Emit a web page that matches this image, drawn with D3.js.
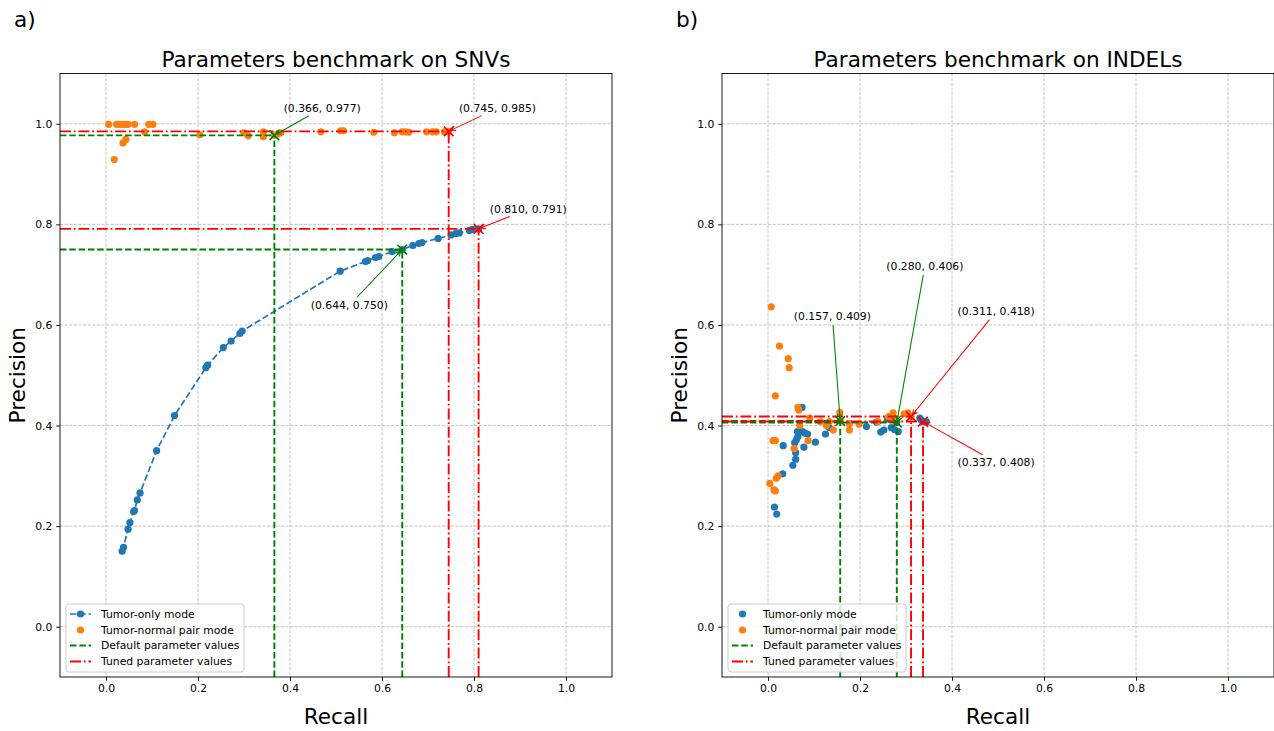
<!DOCTYPE html>
<html>
<head>
<meta charset="utf-8">
<script src="https://cdn.jsdelivr.net/npm/d3@7"></script>
<style>
  body { margin: 0; background: #fff; }
  svg { display: block; font-family: "DejaVu Sans", sans-serif; }
</style>
</head>
<body>
<svg id="chart" width="1274" height="731"></svg>
<script>
// ---- values: [recall, precision] ----
const snvTumorOnly = [
  [0.035,0.150],[0.038,0.158],[0.048,0.194],[0.052,0.207],[0.060,0.229],[0.062,0.231],
  [0.068,0.252],[0.074,0.266],[0.110,0.350],[0.149,0.420],[0.217,0.515],[0.221,0.520],
  [0.255,0.555],[0.272,0.568],[0.291,0.583],[0.296,0.588],[0.509,0.707],[0.564,0.726],
  [0.569,0.728],[0.586,0.734],[0.593,0.736],[0.622,0.746],[0.644,0.750],[0.667,0.758],
  [0.680,0.762],[0.687,0.764],[0.722,0.772],[0.750,0.779],[0.761,0.782],[0.768,0.783],
  [0.790,0.788],[0.797,0.790],[0.810,0.791]
];
const snvPair = [
  [0.006,0.999],[0.023,0.999],[0.030,0.999],[0.037,0.999],[0.043,0.999],[0.048,0.999],
  [0.062,0.999],[0.093,0.999],[0.102,0.999],[0.084,0.984],[0.037,0.962],[0.043,0.969],
  [0.018,0.929],[0.204,0.978],[0.300,0.982],[0.309,0.976],[0.342,0.984],[0.342,0.974],
  [0.366,0.977],[0.374,0.980],[0.380,0.982],[0.467,0.984],[0.510,0.986],[0.516,0.986],
  [0.582,0.983],[0.627,0.982],[0.644,0.984],[0.651,0.984],[0.658,0.983],[0.697,0.984],
  [0.710,0.984],[0.718,0.984],[0.736,0.984],[0.745,0.985]
];
const snvDefault = [[0.366,0.977],[0.644,0.750]];
const snvTuned = [[0.745,0.985],[0.810,0.791]];

const indelTumorOnly = [
  [0.014,0.238],[0.019,0.224],[0.032,0.304],[0.033,0.360],[0.054,0.321],[0.060,0.333],
  [0.060,0.346],[0.058,0.366],[0.062,0.372],[0.065,0.378],[0.064,0.388],[0.075,0.388],
  [0.080,0.385],[0.086,0.383],[0.078,0.357],[0.074,0.436],[0.103,0.367],[0.125,0.383],
  [0.133,0.396],[0.214,0.398],[0.236,0.407],[0.245,0.387],[0.252,0.391],[0.260,0.413],
  [0.268,0.396],[0.275,0.392],[0.283,0.388],[0.280,0.406],[0.330,0.415],[0.333,0.411],
  [0.337,0.408],[0.341,0.407],[0.344,0.408]
];
const indelPair = [
  [0.007,0.636],[0.025,0.558],[0.044,0.533],[0.046,0.515],[0.016,0.459],[0.065,0.436],
  [0.067,0.431],[0.069,0.400],[0.091,0.415],[0.114,0.408],[0.127,0.400],[0.133,0.408],
  [0.142,0.391],[0.157,0.409],[0.156,0.426],[0.177,0.391],[0.177,0.404],[0.198,0.403],
  [0.239,0.408],[0.262,0.418],[0.272,0.425],[0.274,0.413],[0.296,0.423],[0.304,0.425],
  [0.311,0.418],[0.011,0.370],[0.016,0.370],[0.087,0.370],[0.057,0.354],[0.004,0.285],
  [0.018,0.295],[0.022,0.300],[0.013,0.272],[0.016,0.270]
];
const indelDefault = [[0.157,0.409],[0.280,0.406]];
const indelTuned = [[0.311,0.418],[0.337,0.408]];

const tickValues = [0.0, 0.2, 0.4, 0.6, 0.8, 1.0];
const legendLabels = ["Tumor-only mode", "Tumor-normal pair mode", "Default parameter values", "Tuned parameter values"];

// ---- layout: annotation text centres (data units), defaults first, then tuned ----
const snvLabelAt = [[0.470,1.031],[0.529,0.639],[0.851,1.031],[0.918,0.830]];
const indelLabelAt = [[0.140,0.617],[0.341,0.717],[0.496,0.627],[0.496,0.327]];

const C = { blue: "#1f77b4", orange: "#ff7f0e", green: "#008000", red: "#ff0000" };
const SMALL = 10.8, LARGE = 21.6;
const REF_W = 1.9, DOT_R = 3.6;
const DASH = "6.5,2.8", DASHDOT = "11,2.8,1.8,2.8";

const svg = d3.select("#chart");
const fmt = d3.format(".3f");

const panels = [
  { tag: "a)", title: "Parameters benchmark on SNVs", left: 60, tumorOnly: snvTumorOnly, pair: snvPair,
    defaults: snvDefault, tuned: snvTuned, labelAt: snvLabelAt, connect: true },
  { tag: "b)", title: "Parameters benchmark on INDELs", left: 722, tumorOnly: indelTumorOnly, pair: indelPair,
    defaults: indelDefault, tuned: indelTuned, labelAt: indelLabelAt, connect: false }
];

panels.forEach((p, i) => drawPanel(p, i));

function drawPanel(p, idx) {
  const W = 552, top = 73.5, bottom = 677;
  const x = d3.scaleLinear().domain([-0.1, 1.1]).range([p.left, p.left + W]);
  const y = d3.scaleLinear().domain([-0.1, 1.1]).range([bottom, top]);
  const g = svg.append("g");

  const clipId = "clip" + idx;
  g.append("clipPath").attr("id", clipId).append("rect")
    .attr("x", p.left).attr("y", top).attr("width", W).attr("height", bottom - top);

  // grid
  const grid = g.append("g").attr("stroke", "#b0b0b0").attr("stroke-width", 0.85)
    .attr("stroke-dasharray", "3.2,1.4").attr("opacity", 0.85);
  grid.selectAll(".gx").data(tickValues).join("line")
    .attr("x1", d => x(d)).attr("x2", d => x(d)).attr("y1", top).attr("y2", bottom);
  grid.selectAll(".gy").data(tickValues).join("line")
    .attr("y1", d => y(d)).attr("y2", d => y(d)).attr("x1", p.left).attr("x2", p.left + W);

  // axes
  const xa = g.append("g").attr("transform", `translate(0,${bottom})`)
    .call(d3.axisBottom(x).tickValues(tickValues).tickFormat(d3.format(".1f"))
      .tickSizeOuter(0).tickSize(3.8).tickPadding(3.8));
  const ya = g.append("g").attr("transform", `translate(${p.left},0)`)
    .call(d3.axisLeft(y).tickValues(tickValues).tickFormat(d3.format(".1f"))
      .tickSizeOuter(0).tickSize(3.8).tickPadding(3.8));
  [xa, ya].forEach(a => {
    a.select(".domain").remove();
    a.selectAll("line").attr("stroke", "#000").attr("stroke-width", 0.9);
    a.selectAll("text").attr("fill", "#000").style("font-size", SMALL + "px")
      .style("font-family", '"DejaVu Sans", sans-serif');
  });

  const data = g.append("g").attr("clip-path", `url(#${clipId})`);

  // tumor-only series
  if (p.connect) {
    data.append("path").datum(p.tumorOnly)
      .attr("d", d3.line().x(d => x(d[0])).y(d => y(d[1])))
      .attr("fill", "none").attr("stroke", C.blue).attr("stroke-width", 1.7)
      .attr("stroke-dasharray", DASH);
  }
  data.selectAll(".to").data(p.tumorOnly).join("circle")
    .attr("cx", d => x(d[0])).attr("cy", d => y(d[1])).attr("r", DOT_R).attr("fill", C.blue);
  data.selectAll(".tn").data(p.pair).join("circle")
    .attr("cx", d => x(d[0])).attr("cy", d => y(d[1])).attr("r", DOT_R).attr("fill", C.orange);

  // reference lines from the axes to each chosen setting
  const refs = [
    ...p.defaults.map(d => ({ d, color: C.green, dash: DASH })),
    ...p.tuned.map(d => ({ d, color: C.red, dash: DASHDOT }))
  ];
  refs.forEach(r => {
    data.append("line").attr("x1", x(-0.1)).attr("x2", x(r.d[0]))
      .attr("y1", y(r.d[1])).attr("y2", y(r.d[1]))
      .attr("stroke", r.color).attr("stroke-width", REF_W).attr("stroke-dasharray", r.dash);
    data.append("line").attr("x1", x(r.d[0])).attr("x2", x(r.d[0]))
      .attr("y1", y(-0.1)).attr("y2", y(r.d[1]))
      .attr("stroke", r.color).attr("stroke-width", REF_W).attr("stroke-dasharray", r.dash);
  });
  refs.forEach(r => {
    const cx = x(r.d[0]), cy = y(r.d[1]), s = 4.8;
    data.append("path")
      .attr("d", `M${cx - s},${cy - s}L${cx + s},${cy + s}M${cx - s},${cy + s}L${cx + s},${cy - s}`)
      .attr("stroke", r.color).attr("stroke-width", 1.6).attr("fill", "none");
  });

  // annotations with arrows
  refs.forEach((r, k) => {
    const at = p.labelAt[k];
    const tx = x(at[0]), ty = y(at[1]);
    const t = g.append("text").attr("x", tx).attr("y", ty)
      .attr("text-anchor", "middle").attr("dominant-baseline", "central")
      .style("font-size", SMALL + "px").attr("fill", "#000")
      .text(`(${fmt(r.d[0])}, ${fmt(r.d[1])})`);
    const bb = t.node().getBBox();
    const px = x(r.d[0]), py = y(r.d[1]);
    const dx = px - tx, dy = py - ty, len = Math.hypot(dx, dy);
    const ux = dx / len, uy = dy / len;
    const hw = bb.width / 2, hh = bb.height / 2;
    const tEdge = Math.min(ux !== 0 ? hw / Math.abs(ux) : Infinity, uy !== 0 ? hh / Math.abs(uy) : Infinity);
    const sx = tx + ux * (tEdge + 2.2), sy = ty + uy * (tEdge + 2.2);
    const ex = px - ux * 2.2, ey = py - uy * 2.2;
    const hl = 5, hwid = 2.6;
    const nx = -uy, ny = ux;
    const bx = ex - ux * hl, by = ey - uy * hl;
    g.append("path")
      .attr("d", `M${sx},${sy}L${ex},${ey}M${bx + nx * hwid},${by + ny * hwid}L${ex},${ey}L${bx - nx * hwid},${by - ny * hwid}`)
      .attr("fill", "none").attr("stroke", r.color).attr("stroke-width", 1.05);
  });

  // frame
  g.append("rect").attr("x", p.left).attr("y", top).attr("width", W).attr("height", bottom - top)
    .attr("fill", "none").attr("stroke", "#000").attr("stroke-width", 0.9);

  // titles and labels
  g.append("text").attr("x", p.left + W / 2).attr("y", 67).attr("text-anchor", "middle")
    .style("font-size", LARGE + "px").text(p.title);
  g.append("text").attr("x", p.left + W / 2).attr("y", 724).attr("text-anchor", "middle")
    .style("font-size", LARGE + "px").text("Recall");
  g.append("text").attr("transform", `translate(${p.left - 35},${(top + bottom) / 2}) rotate(-90)`)
    .attr("text-anchor", "middle").style("font-size", LARGE + "px").text("Precision");
  g.append("text").attr("x", p.left - 46).attr("y", 27)
    .style("font-size", LARGE + "px").text(p.tag);

  // legend
  const lx = p.left + 6, ly = 604;
  const lg = g.append("g");
  lg.append("rect").attr("x", lx).attr("y", ly).attr("width", 178).attr("height", 68)
    .attr("rx", 3).attr("fill", "#fff").attr("fill-opacity", 0.8)
    .attr("stroke", "#cccccc").attr("stroke-width", 1);
  const rows = [614, 630, 645.5, 661.5];
  const h0 = p.left + 10, h1 = p.left + 31, hm = (h0 + h1) / 2;
  if (p.connect) {
    lg.append("line").attr("x1", h0).attr("x2", h1).attr("y1", rows[0]).attr("y2", rows[0])
      .attr("stroke", C.blue).attr("stroke-width", 1.7).attr("stroke-dasharray", DASH);
  }
  lg.append("circle").attr("cx", hm).attr("cy", rows[0]).attr("r", DOT_R).attr("fill", C.blue);
  lg.append("circle").attr("cx", hm).attr("cy", rows[1]).attr("r", DOT_R).attr("fill", C.orange);
  lg.append("line").attr("x1", h0).attr("x2", h1).attr("y1", rows[2]).attr("y2", rows[2])
    .attr("stroke", C.green).attr("stroke-width", REF_W).attr("stroke-dasharray", DASH);
  lg.append("line").attr("x1", h0).attr("x2", h1).attr("y1", rows[3]).attr("y2", rows[3])
    .attr("stroke", C.red).attr("stroke-width", REF_W).attr("stroke-dasharray", DASHDOT);
  legendLabels.forEach((txt, k) => {
    lg.append("text").attr("x", p.left + 41).attr("y", rows[k])
      .attr("dominant-baseline", "central").style("font-size", SMALL + "px").text(txt);
  });
}
</script>
</body>
</html>
